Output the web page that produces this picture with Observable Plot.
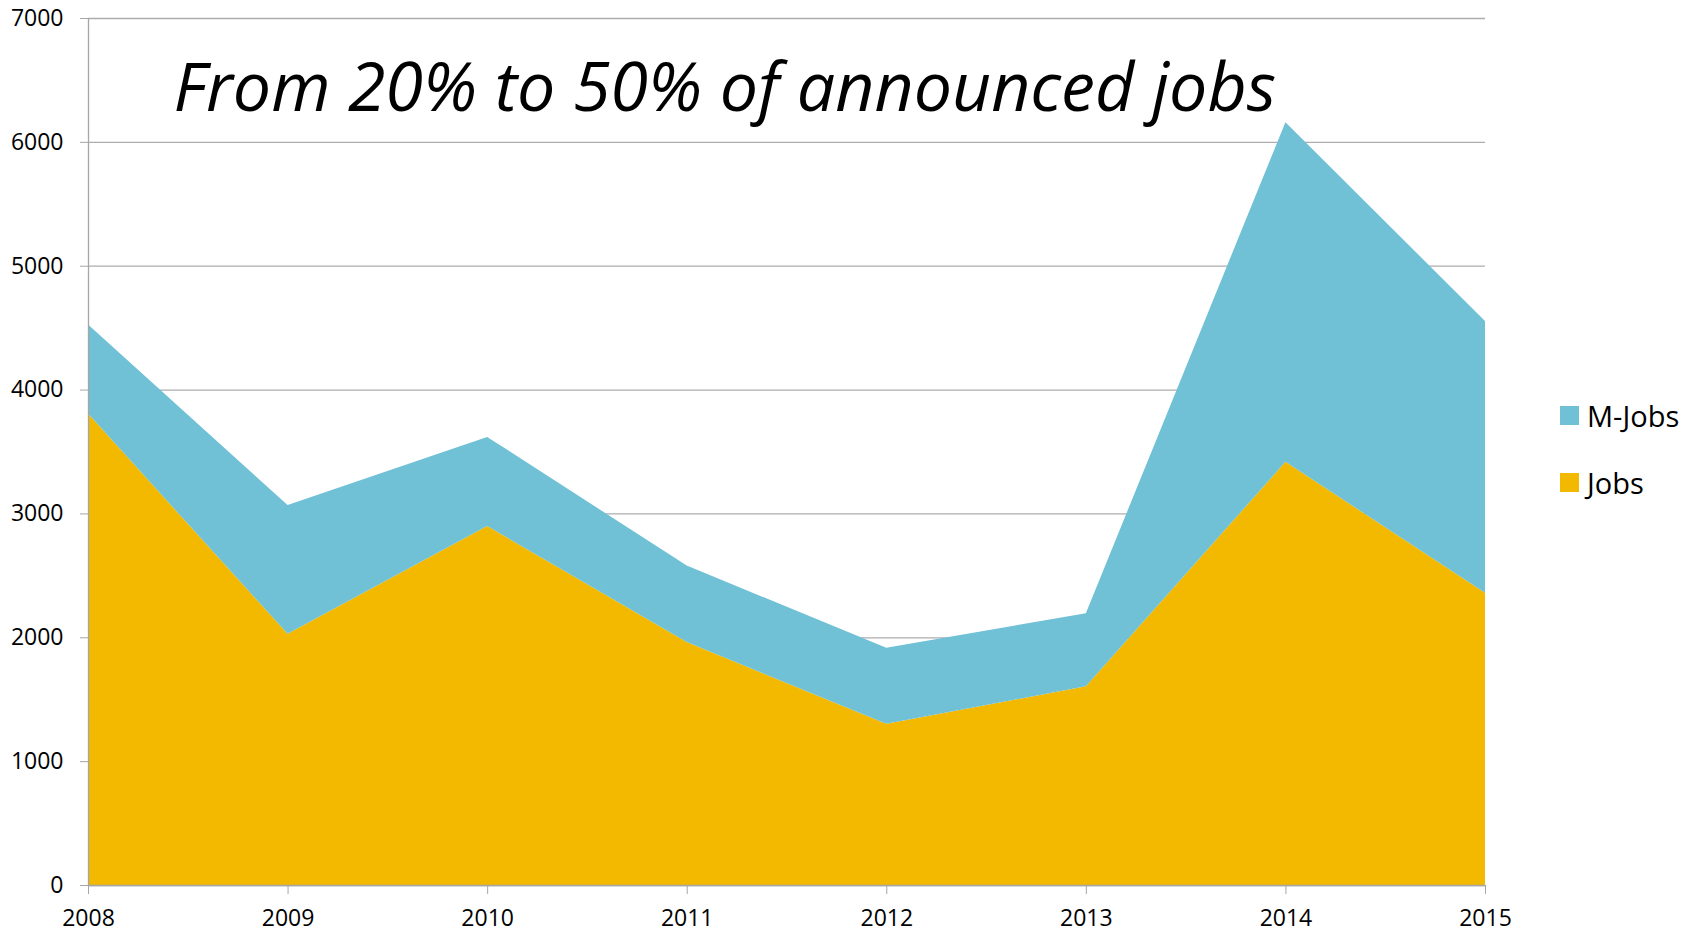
<!DOCTYPE html>
<html>
<head>
<meta charset="utf-8">
<script src="https://cdn.jsdelivr.net/npm/d3@7"></script>
<script src="https://cdn.jsdelivr.net/npm/@observablehq/plot@0.6"></script>
<style>
  html, body { margin: 0; padding: 0; background: #fff; }
  #wrap { position: relative; width: 1694px; height: 934px; font-family: "Open Sans", sans-serif; }
  .legend { position: absolute; left: 1560px; font-size: 29px; color: #000; display: flex; align-items: center; }
  .legend span.sw { display: inline-block; width: 19px; height: 19px; margin-right: 8px; }
</style>
</head>
<body>
<div id="wrap"></div>
<script>
const years = [2008, 2009, 2010, 2011, 2012, 2013, 2014, 2015];
const jobs  = [3806, 2028, 2898, 1961, 1302, 1604, 3417, 2360];
const mJobs = [720, 1040, 720, 618, 613, 590, 2742, 2193];
const seriesNames = ["Jobs", "M-Jobs"];
const seriesColors = ["#F2B900", "#70C0D6"];
const yTicks = [0, 1000, 2000, 3000, 4000, 5000, 6000, 7000];
const titleText = ["From 20% to 50% of announced jobs"];

const rows = [];
years.forEach((yr, i) => rows.push({year: yr, series: "Jobs", value: jobs[i]}));
years.forEach((yr, i) => rows.push({year: yr, series: "M-Jobs", value: mJobs[i]}));

const chart = Plot.plot({
  width: 1694,
  height: 934,
  marginLeft: 88,
  marginRight: 209,
  marginTop: 18,
  marginBottom: 49,
  style: {fontFamily: "'Open Sans', sans-serif", fontSize: "23px", color: "#000", background: "#fff"},
  x: {type: "linear", domain: [2008, 2015]},
  y: {domain: [0, 7000]},
  color: {domain: seriesNames, range: seriesColors},
  marks: [
    Plot.gridY(yTicks, {stroke: "#ADADAD", strokeOpacity: 1, strokeWidth: 1.3}),
    Plot.areaY(rows, Plot.stackY({x: "year", y: "value", fill: "series", order: seriesNames})),
    Plot.ruleX([2008], {stroke: "#A6A6A6", strokeWidth: 1.3}),
    Plot.ruleY([0], {stroke: "#A6A6A6", strokeWidth: 1.3}),
    Plot.axisY(yTicks, {tickSize: 8, tickPadding: 17, stroke: "#A6A6A6", fill: "#000", label: null, tickFormat: d => String(d)}),
    Plot.axisX(years, {tickSize: 9, tickPadding: 15, stroke: "#A6A6A6", fill: "#000", label: null, tickFormat: d => String(d)}),
    Plot.text(titleText, {frameAnchor: "top-left", textAnchor: "start", dx: 85, dy: 44, fontSize: 68, fontStyle: "italic", fill: "#000"})
  ]
});
const wrap = document.getElementById("wrap");
wrap.appendChild(chart);

const legendItems = [{name: "M-Jobs", color: seriesColors[1], top: 399}, {name: "Jobs", color: seriesColors[0], top: 466}];
legendItems.forEach(it => {
  const d = document.createElement("div");
  d.className = "legend";
  d.style.top = it.top + "px";
  d.style.height = "32px";
  const sw = document.createElement("span");
  sw.className = "sw";
  sw.style.background = it.color;
  d.appendChild(sw);
  d.appendChild(document.createTextNode(it.name));
  wrap.appendChild(d);
});
</script>
</body>
</html>
